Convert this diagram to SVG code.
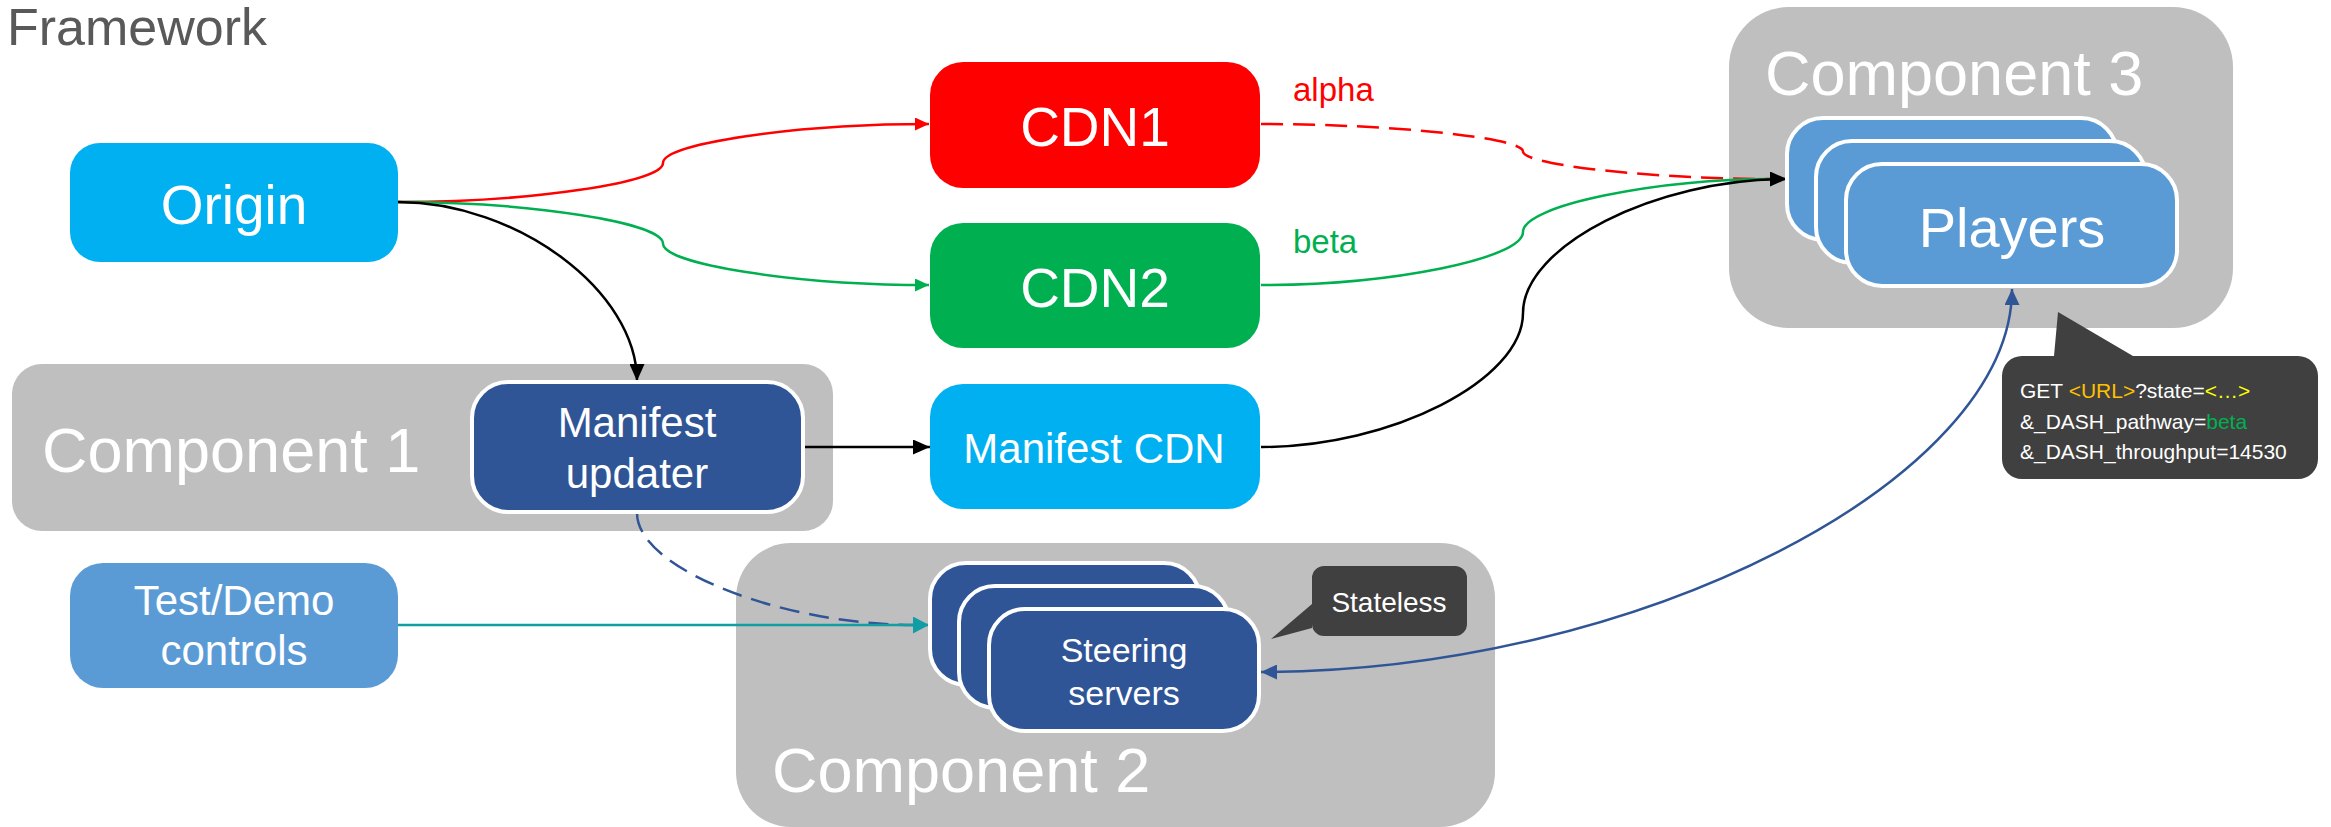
<svg xmlns="http://www.w3.org/2000/svg" width="2331" height="827" viewBox="0 0 2331 827">
  <style>
    text { font-family: "Liberation Sans", Arial, sans-serif; }
    .group { fill: #BFBFBF; }
    .grp-label { fill: #FFFFFF; font-size: 63px; }
    .lbl { fill: #FFFFFF; text-anchor: middle; }
    .big { font-size: 55px; }
    .mid { font-size: 42px; }
    .stack { stroke: #FFFFFF; stroke-width: 4; }
    .conn { fill: none; stroke-width: 2.5; }
    .bubble { fill: #404040; }
  </style>
  <defs>
    <marker id="ah-black" markerUnits="userSpaceOnUse" markerWidth="17" markerHeight="15" refX="17" refY="7.5" orient="auto">
      <path d="M0,0 L17,7.5 L0,15 z" fill="#000000"/>
    </marker>
    <marker id="ah-red" markerUnits="userSpaceOnUse" markerWidth="14" markerHeight="13" refX="14" refY="6.5" orient="auto">
      <path d="M0,0 L14,6.5 L0,13 z" fill="#FF0000"/>
    </marker>
    <marker id="ah-green" markerUnits="userSpaceOnUse" markerWidth="14" markerHeight="13" refX="14" refY="6.5" orient="auto">
      <path d="M0,0 L14,6.5 L0,13 z" fill="#00B050"/>
    </marker>
    <marker id="ah-teal" markerUnits="userSpaceOnUse" markerWidth="16" markerHeight="17" refX="16" refY="8.5" orient="auto">
      <path d="M0,0 L16,8.5 L0,17 z" fill="#119DA4"/>
    </marker>
    <marker id="ah-blue" markerUnits="userSpaceOnUse" markerWidth="16" markerHeight="15" refX="16" refY="7.5" orient="auto-start-reverse">
      <path d="M0,0 L16,7.5 L0,15 z" fill="#2F5597"/>
    </marker>
  </defs>

  <rect width="2331" height="827" fill="#FFFFFF"/>

  <text x="7" y="45" font-size="52" fill="#595959">Framework</text>

  <!-- grouping panels -->
  <g id="component1">
    <rect class="group" x="12" y="364" width="821" height="167" rx="30"/>
    <text class="grp-label" x="42" y="472">Component 1</text>
  </g>
  <g id="component2">
    <rect class="group" x="736" y="543" width="759" height="284" rx="55"/>
    <text class="grp-label" x="772" y="792">Component 2</text>
  </g>
  <g id="component3">
    <rect class="group" x="1729" y="7" width="504" height="321" rx="60"/>
    <text class="grp-label" x="1765" y="95">Component 3</text>
  </g>

  <!-- connectors -->
  <g id="connectors">
    <path class="conn" stroke="#FF0000" marker-end="url(#ah-red)" d="M398,202 C530.5,202 663,182.5 663,163 C663,143.5 795.5,124 929,124"/>
    <path class="conn" stroke="#00B050" marker-end="url(#ah-green)" d="M398,202 C530.5,202 663,222.75 663,243.5 C663,264.25 795.5,285 929,285"/>
    <path class="conn" stroke="#000000" marker-end="url(#ah-black)" d="M398,202 C517,202 637,291 637,381"/>
    <path class="conn" stroke="#FF0000" stroke-width="3" stroke-dasharray="22 10" d="M1261,124 C1391.5,124 1523,137.75 1523,151.5 C1523,165.25 1655,179 1770,179"/>
    <path class="conn" stroke="#00B050" d="M1261,285 C1391.5,285 1523,258.5 1523,232 C1523,205.5 1655,179 1775,179"/>
    <path class="conn" stroke="#000000" marker-end="url(#ah-black)" d="M1261,447 C1391.5,447 1523,380 1523,313 C1523,246 1655,179 1787,179"/>
    <path class="conn" stroke="#000000" marker-end="url(#ah-black)" d="M803,447 L930,447"/>
    <path class="conn" stroke="#2F5597" stroke-dasharray="20 10" d="M637,513 C637,569 782.5,625 915,625"/>
    <path class="conn" stroke="#119DA4" stroke-width="3" marker-end="url(#ah-teal)" d="M398,625 L929,625"/>
    <path class="conn" stroke="#2F5597" marker-start="url(#ah-blue)" marker-end="url(#ah-blue)" d="M1261,672 C1637,672 2012,480 2012,289"/>
  </g>

  <!-- nodes -->
  <g id="origin">
    <rect x="70" y="143" width="328" height="119" rx="30" fill="#00B0F0"/>
    <text class="lbl big" x="234" y="224">Origin</text>
  </g>
  <g id="cdn1">
    <rect x="930" y="62" width="330" height="126" rx="33" fill="#FF0000"/>
    <text class="lbl big" x="1095" y="146">CDN1</text>
  </g>
  <text x="1293" y="101" font-size="33" fill="#FF0000">alpha</text>
  <g id="cdn2">
    <rect x="930" y="223" width="330" height="125" rx="33" fill="#00B050"/>
    <text class="lbl big" x="1095" y="307">CDN2</text>
  </g>
  <text x="1293" y="253" font-size="33" fill="#00B050">beta</text>
  <g id="manifest-cdn">
    <rect x="930" y="384" width="330" height="125" rx="33" fill="#00B0F0"/>
    <text class="lbl mid" x="1094" y="463">Manifest CDN</text>
  </g>
  <g id="manifest-updater">
    <rect class="stack" x="472" y="382" width="331" height="130" rx="36" fill="#2F5597"/>
    <text class="lbl mid" x="637" y="437">Manifest</text>
    <text class="lbl mid" x="637" y="488">updater</text>
  </g>
  <g id="test-demo">
    <rect x="70" y="563" width="328" height="125" rx="33" fill="#5B9BD5"/>
    <text class="lbl mid" x="234" y="615">Test/Demo</text>
    <text class="lbl mid" x="234" y="665">controls</text>
  </g>
  <g id="steering-servers">
    <rect class="stack" x="930" y="563" width="270" height="122" rx="36" fill="#2F5597"/>
    <rect class="stack" x="959" y="586" width="270" height="122" rx="36" fill="#2F5597"/>
    <rect class="stack" x="989" y="609" width="270" height="122" rx="36" fill="#2F5597"/>
    <text class="lbl" x="1124" y="662" font-size="34">Steering</text>
    <text class="lbl" x="1124" y="705" font-size="34">servers</text>
  </g>
  <g id="stateless">
    <path class="bubble" d="M1324,566 H1455 A12,12 0 0 1 1467,578 V624 A12,12 0 0 1 1455,636 H1324 A12,12 0 0 1 1312,624 V628 L1271,639 L1312,604 V578 A12,12 0 0 1 1324,566 Z"/>
    <text class="lbl" x="1389" y="612" font-size="28">Stateless</text>
  </g>
  <g id="players">
    <rect class="stack" x="1787" y="118" width="330" height="122" rx="36" fill="#5B9BD5"/>
    <rect class="stack" x="1816" y="141" width="330" height="122" rx="36" fill="#5B9BD5"/>
    <rect class="stack" x="1846" y="164" width="331" height="122" rx="36" fill="#5B9BD5"/>
    <text class="lbl" x="2012" y="247" font-size="56">Players</text>
  </g>
  <g id="request">
    <path class="bubble" d="M2022,356 H2054 L2058,312 L2133,356 H2298 A20,20 0 0 1 2318,376 V459 A20,20 0 0 1 2298,479 H2022 A20,20 0 0 1 2002,459 V376 A20,20 0 0 1 2022,356 Z"/>
    <text x="2020" y="398" font-size="21" fill="#FFFFFF">GET <tspan fill="#FFC000">&lt;URL&gt;</tspan>?state=<tspan fill="#FFFF00">&lt;…&gt;</tspan></text>
    <text x="2020" y="429" font-size="21" fill="#FFFFFF">&amp;_DASH_pathway=<tspan fill="#00B050">beta</tspan></text>
    <text x="2020" y="459" font-size="21" fill="#FFFFFF">&amp;_DASH_throughput=14530</text>
  </g>
</svg>
